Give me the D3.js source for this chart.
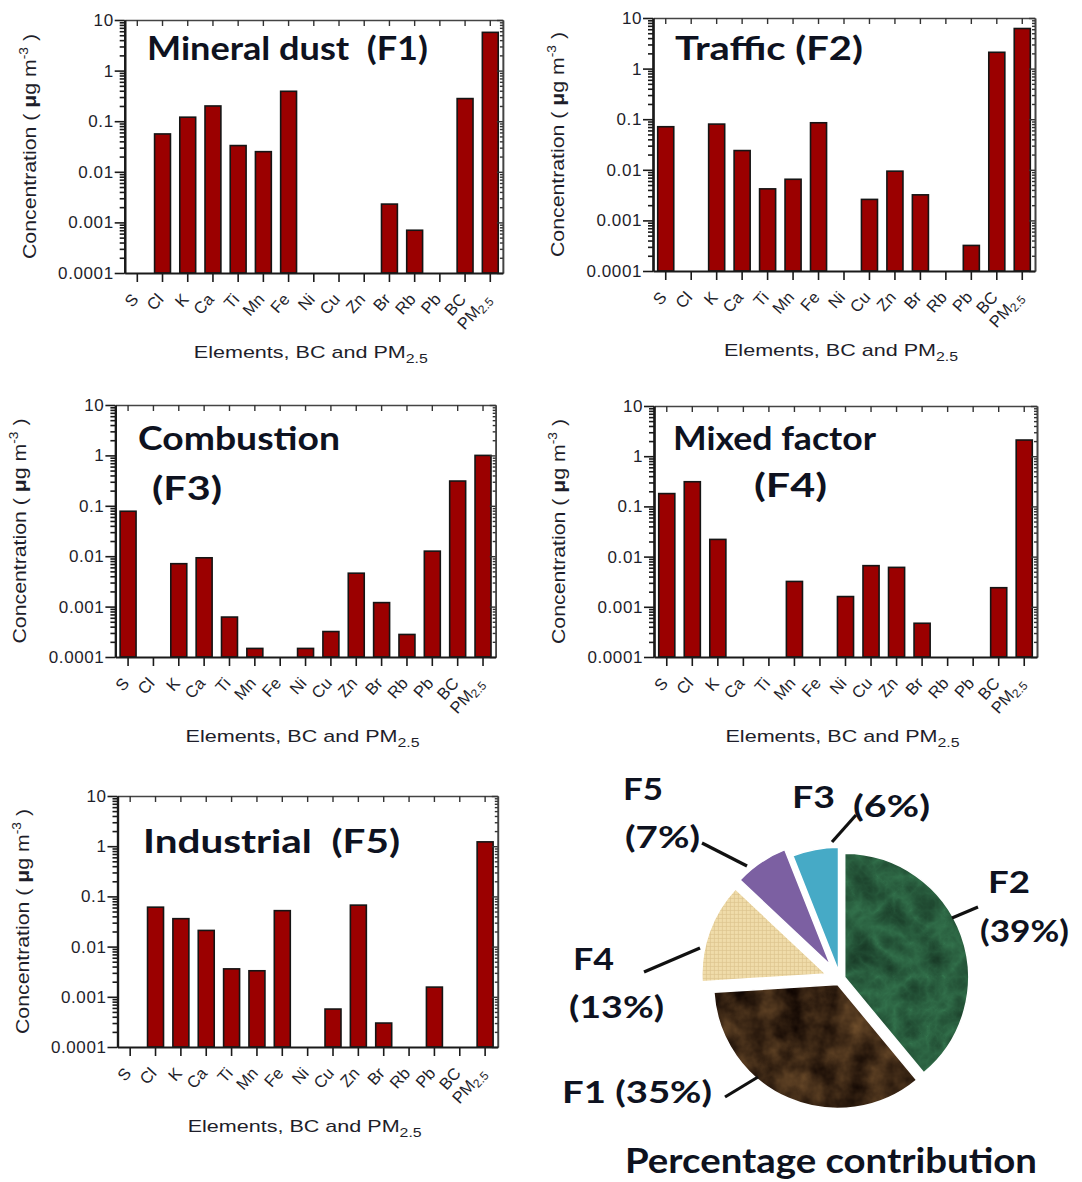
<!DOCTYPE html>
<html><head><meta charset="utf-8">
<script src="https://cdn.jsdelivr.net/npm/d3@7"></script>
<style>body{margin:0;background:#fff} svg{display:block}</style>
</head><body>
<svg id="c" width="1082" height="1182"></svg>
<script>
// ---------------- data ----------------
const categories = ["S","Cl","K","Ca","Ti","Mn","Fe","Ni","Cu","Zn","Br","Rb","Pb","BC","PM2.5"];
const f1Values = [null,0.056,0.12,0.20,0.033,0.025,0.39,null,null,null,0.0023,0.0007,null,0.28,5.7];
const f2Values = [0.071,null,0.08,0.024,0.0042,0.0065,0.085,null,0.0026,0.0094,0.0032,null,0.00032,2.1,6.2];
const f3Values = [0.078,null,0.0071,0.0093,0.00062,0.000148,null,0.000148,0.00032,0.0046,0.0012,0.00028,0.0126,0.31,1.0];
const f4Values = [0.18,0.31,0.022,null,null,0.0032,null,0.0016,0.0066,0.0061,0.00047,null,null,0.0024,2.1];
const f5Values = [null,0.061,0.036,0.021,0.0036,0.0033,0.052,null,0.00057,0.067,0.0003,null,0.00156,null,1.22];
const yTickValues = [0.0001,0.001,0.01,0.1,1,10];
const yTickLabels = ["0.0001","0.001","0.01","0.1","1","10"];
const pieLabels = ["F2","F1","F4","F5","F3"];
const pieShares = [39,35,13,7,6];
const pieCaption = "Percentage contribution";

// ---------------- layout / style ----------------
const panels = [
  {vals:f1Values, x0:124.7, x1:502.9, y0:20, y1:273, title:[{t:"Mineral dust  (F1)",x:147,y:60,w:281}]},
  {vals:f2Values, x0:653, x1:1035, y0:18, y1:271, title:[{t:"Traffic (F2)",x:675,y:60,w:188}]},
  {vals:f3Values, x0:115.4, x1:495.7, y0:405, y1:657, title:[{t:"Combustion",x:138,y:450,w:202},{t:"(F3)",x:152,y:500,w:70}]},
  {vals:f4Values, x0:654, x1:1037, y0:406, y1:657, title:[{t:"Mixed factor",x:673,y:450,w:203},{t:"(F4)",x:754,y:497,w:73}]},
  {vals:f5Values, x0:117.5, x1:497.8, y0:796, y1:1047, title:[{t:"Industrial  (F5)",x:143,y:853,w:257}]}
];
const barFill = "#9b0000";
const axisFont = "'Liberation Sans', Arial, sans-serif";
const titleFont = "Lato, 'Open Sans', sans-serif";

const svg = d3.select("#c");
const defs = svg.append("defs");

const minorTicks = [];
for (let e=-4;e<1;e++) for (let k=2;k<10;k++) minorTicks.push(k*Math.pow(10,e));

panels.forEach(p=>{
  const g = svg.append("g");
  const x = d3.scaleBand().domain(categories).range([p.x0,p.x1]).paddingInner(0.37).paddingOuter(0.185);
  const y = d3.scaleLog().domain([1e-4,10]).range([p.y1,p.y0]);

  // bars
  const data = categories.map((c,j)=>({c, v:p.vals[j]})).filter(d=>d.v!=null);
  g.append("g").selectAll("rect").data(data).join("rect")
    .attr("x",d=>x(d.c)).attr("width",x.bandwidth())
    .attr("y",d=>y(d.v)).attr("height",d=>y(1e-4)-y(d.v))
    .attr("fill",barFill).attr("stroke","#151515").attr("stroke-width",1.6);

  // top mirror axis (ticks inward)
  const top = g.append("g").attr("transform",`translate(0,${p.y0})`)
    .call(d3.axisBottom(x).tickSize(6).tickSizeOuter(0).tickFormat(""));
  // right mirror axis (ticks inward)
  const right = g.append("g").attr("transform",`translate(${p.x1},0)`)
    .call(d3.axisLeft(y).tickValues(yTickValues).tickSize(6).tickSizeOuter(0).tickFormat(""));
  const rightMinor = g.append("g").attr("transform",`translate(${p.x1},0)`)
    .call(d3.axisLeft(y).tickValues(minorTicks).tickSize(3).tickSizeOuter(0).tickFormat(""));
  [top,right,rightMinor].forEach(a=>{
    a.select(".domain").attr("stroke","#444").attr("stroke-width",1.6);
    a.selectAll(".tick line").attr("stroke","#333").attr("stroke-width",1.4);
  });

  // left axis
  const leftMinor = g.append("g").attr("transform",`translate(${p.x0},0)`)
    .call(d3.axisLeft(y).tickValues(minorTicks).tickSize(5).tickSizeOuter(0).tickFormat(""));
  const left = g.append("g").attr("transform",`translate(${p.x0},0)`)
    .call(d3.axisLeft(y).tickValues(yTickValues).tickSize(10).tickPadding(1).tickSizeOuter(0)
      .tickFormat((d,i)=>yTickLabels[i]));
  [left,leftMinor].forEach(a=>{
    a.select(".domain").attr("stroke","#1a1a1a").attr("stroke-width",2.2);
    a.selectAll(".tick line").attr("stroke","#1a1a1a").attr("stroke-width",1.6);
  });
  left.selectAll(".tick text").attr("font-family",axisFont).attr("font-size",17)
    .attr("letter-spacing","0.6px").attr("fill","#1e1e2a");

  // bottom axis
  const bottom = g.append("g").attr("transform",`translate(0,${p.y1})`)
    .call(d3.axisBottom(x).tickSize(9).tickSizeOuter(0).tickFormat(""));
  bottom.select(".domain").attr("stroke","#1a1a1a").attr("stroke-width",2.2);
  bottom.selectAll(".tick line").attr("stroke","#1a1a1a").attr("stroke-width",1.6);
  bottom.selectAll(".tick").each(function(d){
    const t = d3.select(this).append("text")
      .attr("transform","translate(2,27) rotate(-48)")
      .attr("text-anchor","end").attr("font-family",axisFont).attr("font-size",16.5)
      .attr("fill","#1e1e2a");
    if (d==="PM2.5"){
      t.append("tspan").text("PM");
      t.append("tspan").attr("font-size",12).attr("dy",3).text("2.5");
    } else t.text(d);
  });

  // axis titles
  const cy = (p.y0+p.y1)/2;
  const yt = g.append("text")
    .attr("transform",`translate(${p.x0-89},${cy}) rotate(-90)`)
    .attr("text-anchor","middle").attr("font-family",axisFont).attr("font-size",18.5)
    .attr("fill","#1e1e2a").attr("textLength",225).attr("lengthAdjust","spacingAndGlyphs");
  yt.append("tspan").text("Concentration ( ");
  yt.append("tspan").attr("font-weight","bold").text("μ");
  yt.append("tspan").text("g m");
  yt.append("tspan").attr("font-size",12).attr("dy",-8).text("-3");
  yt.append("tspan").attr("dy",8).text(" )");

  const cx = (p.x0+p.x1)/2 - 3;
  const xt = g.append("text").attr("x",cx).attr("y",p.y1+85)
    .attr("text-anchor","middle").attr("font-family",axisFont).attr("font-size",17)
    .attr("fill","#1e1e2a").attr("textLength",234).attr("lengthAdjust","spacingAndGlyphs");
  xt.append("tspan").text("Elements, BC and PM");
  xt.append("tspan").attr("font-size",12.5).attr("dy",5).text("2.5");

  // panel titles
  p.title.forEach(tt=>{
    g.append("text").attr("x",tt.x).attr("y",tt.y).text(tt.t)
      .attr("font-family",titleFont).attr("font-weight",700).attr("font-size",33)
      .attr("fill","#0e1220").attr("textLength",tt.w).attr("lengthAdjust","spacingAndGlyphs")
      .style("white-space","pre");
  });
});

// ---------------- pie ----------------
const pieCenter = [840, 979];
const pieR = 124;
const explode = {F2:5, F1:6, F4:15, F5:17, F3:8};

// textures (filter region in the pie group's local coordinates)
function noiseFilter(id, freq, type, seed, rows){
  const f = defs.append("filter").attr("id",id).attr("filterUnits","userSpaceOnUse")
    .attr("x",-200).attr("y",-200).attr("width",400).attr("height",400)
    .attr("color-interpolation-filters","sRGB");
  f.append("feTurbulence").attr("type",type).attr("baseFrequency",freq).attr("numOctaves",4)
    .attr("seed",seed).attr("result","n");
  f.append("feColorMatrix").attr("in","n").attr("type","matrix").attr("values",rows).attr("result","c");
  f.append("feComposite").attr("in","c").attr("in2","SourceGraphic").attr("operator","in");
}
noiseFilter("texGreen","0.03","turbulence",7,
  "-0.14 0 0 0 0.2  -0.3 0 0 0 0.45  -0.2 0 0 0 0.3  0 0 0 0 1");
noiseFilter("texBrown","0.035","fractalNoise",3,
  "0.5 0 0 0 -0.02  0.38 0 0 0 -0.04  0.22 0 0 0 -0.03  0 0 0 0 1");
const pat = defs.append("pattern").attr("id","texBeige").attr("patternUnits","userSpaceOnUse")
  .attr("width",4).attr("height",4);
pat.append("rect").attr("width",4).attr("height",4).attr("fill","#f0dcaa");
pat.append("path").attr("d","M0 0.5H4M0.5 0V4").attr("stroke","#dcc48e").attr("stroke-width",0.7);

const sliceFill = {F2:"url(#texGreen)", F1:"url(#texBrown)", F4:"url(#texBeige)", F5:"#7c60a2", F3:"#46aac6"};
const sliceBase = {F2:"#245c3e", F1:"#4a3623"};

const pieData = d3.pie().sort(null).value(d=>d.v)(pieLabels.map((l,i)=>({l, v:pieShares[i]})));
const arc = d3.arc().innerRadius(0).outerRadius(pieR);
const pg = svg.append("g").attr("transform",`translate(${pieCenter[0]},${pieCenter[1]})`);
pieData.forEach(d=>{
  const mid = (d.startAngle+d.endAngle)/2, o = explode[d.data.l];
  const sg = pg.append("g").attr("transform",`translate(${o*Math.sin(mid)},${-o*Math.cos(mid)})`);
  if (sliceBase[d.data.l]) {
    sg.append("path").attr("d",arc(d)).attr("fill",sliceBase[d.data.l]);
    sg.append("path").attr("d",arc(d)).attr("fill","#000").attr("filter",sliceFill[d.data.l]);
  } else sg.append("path").attr("d",arc(d)).attr("fill",sliceFill[d.data.l]);
  sg.append("path").attr("d",arc(d)).attr("fill","none").attr("stroke","#fff").attr("stroke-width",1.5);
});

// labels & leader lines
const pieAnno = [
  {t:"F2", x:988, y:893, w:42}, {t:"(39%)", x:980, y:942, w:89},
  {t:"F4", x:573, y:970, w:41}, {t:"(13%)", x:569, y:1018, w:95},
  {t:"F1 (35%)", x:562, y:1103, w:150},
  {t:"F5", x:623, y:800, w:40}, {t:"(7%)", x:625, y:848, w:75},
  {t:"F3", x:792, y:808, w:43}, {t:"(6%)", x:853, y:817, w:77}
];
const leaders = [[952,918,978,907],[758,1077,725,1097],[700,948,644,972],[747,866,702,843],[832,842,856,815]];
leaders.forEach(l=>svg.append("line").attr("x1",l[0]).attr("y1",l[1]).attr("x2",l[2]).attr("y2",l[3])
  .attr("stroke","#111").attr("stroke-width",3.2));
pieAnno.forEach(a=>svg.append("text").attr("x",a.x).attr("y",a.y).text(a.t)
  .attr("font-family",titleFont).attr("font-weight",700).attr("font-size",31).attr("fill","#0e1220")
  .attr("textLength",a.w).attr("lengthAdjust","spacingAndGlyphs"));
svg.append("text").attr("x",625).attr("y",1173).text(pieCaption)
  .attr("font-family",titleFont).attr("font-weight",700).attr("font-size",34).attr("fill","#0e1220")
  .attr("textLength",412).attr("lengthAdjust","spacingAndGlyphs");
</script>
</body></html>
